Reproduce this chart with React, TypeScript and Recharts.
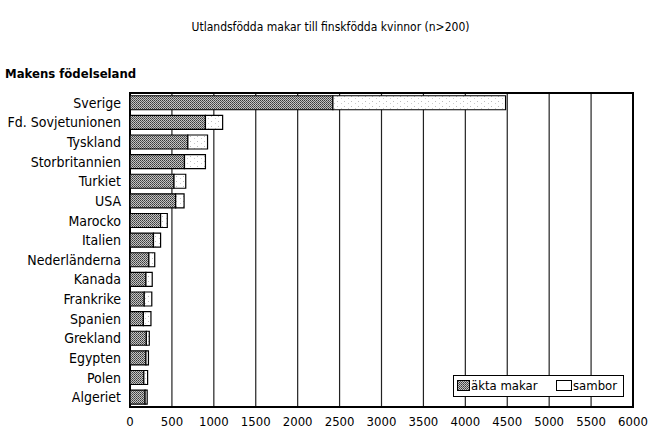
import React from 'react';
import { BarChart, Bar, XAxis, YAxis, CartesianGrid, ReferenceArea } from 'recharts';

const categories = ['Sverige', 'Fd. Sovjetunionen', 'Tyskland', 'Storbritannien', 'Turkiet', 'USA', 'Marocko', 'Italien', 'Nederländerna', 'Kanada', 'Frankrike', 'Spanien', 'Grekland', 'Egypten', 'Polen', 'Algeriet'];
const aktaMakar = [2420, 900, 690, 650, 525, 545, 365, 280, 225, 190, 170, 160, 195, 190, 165, 180];
const sambor = [2060, 205, 235, 250, 140, 100, 80, 85, 70, 75, 90, 90, 35, 30, 45, 25];
const xTicks = [0, 500, 1000, 1500, 2000, 2500, 3000, 3500, 4000, 4500, 5000, 5500, 6000];
const seriesNames = ['äkta makar', 'sambor'];

const data = categories.map((c, i) => ({ land: c, akta: aktaMakar[i], sambor: sambor[i] }));

const FONT = '"DejaVu Sans Condensed", "DejaVu Sans", sans-serif';

export default function App() {
  return (
    <div style={{ position: 'fixed', left: 0, top: 0, width: 661, height: 429, background: '#fff', fontStretch: 'condensed' }}>
      <div style={{ position: 'absolute', left: 0, width: 661, top: 20, textAlign: 'center', fontFamily: FONT, fontSize: 12, color: '#000' }}>
        Utlandsfödda makar till finskfödda kvinnor (n&gt;200)
      </div>
      <div style={{ position: 'absolute', left: 5, top: 66, fontFamily: FONT, fontSize: 13, fontWeight: 'bold', color: '#000' }}>
        Makens födelseland
      </div>
      <BarChart
        width={661}
        height={429}
        data={data}
        layout="vertical"
        margin={{ top: 93, right: 28, bottom: 0, left: 0 }}
        barCategoryGap="14%"
      >
        <defs>
          <pattern id="patDark" width="2" height="2" patternUnits="userSpaceOnUse">
            <rect width="2" height="2" fill="#c4c4c4" />
            <rect x="0" y="0" width="1" height="1" fill="#3a3a3a" />
            <rect x="1" y="1" width="1" height="1" fill="#5a5a5a" />
          </pattern>
          <pattern id="patLight" width="7" height="5" patternUnits="userSpaceOnUse">
            <rect width="7" height="5" fill="#fff" />
            <rect x="1" y="1" width="1" height="1" fill="#bbb" />
            <rect x="5" y="3" width="1" height="1" fill="#ccc" />
          </pattern>
        </defs>
        <CartesianGrid horizontal={false} stroke="#222" strokeWidth={1.2} />
        <XAxis
          type="number"
          domain={[0, 6000]}
          ticks={xTicks}
          interval={0}
          height={22}
          axisLine={false}
          tickLine={false}
          tickSize={0}
          tickMargin={10}
          tick={{ fill: '#000', fontSize: 13, fontFamily: FONT }}
        />
        <YAxis
          type="category"
          dataKey="land"
          width={130}
          axisLine={false}
          tickLine={false}
          tickSize={0}
          tickMargin={9}
          interval={0}
          tick={{ fill: '#000', fontSize: 14, fontFamily: FONT }}
        />
        <ReferenceArea x1={0} x2={6000} fill="none" stroke="#000" strokeWidth={2} ifOverflow="visible" />
        <Bar dataKey="akta" name={seriesNames[0]} stackId="a" fill="url(#patDark)" stroke="#000" strokeWidth={1.2} isAnimationActive={false} />
        <Bar dataKey="sambor" name={seriesNames[1]} stackId="a" fill="url(#patLight)" stroke="#000" strokeWidth={1.2} isAnimationActive={false} />
      </BarChart>
      <div style={{
        position: 'absolute', left: 453, top: 375, width: 171, height: 22,
        border: '1.5px solid #000', background: '#fff', boxSizing: 'border-box',
        fontFamily: FONT, fontSize: 13, color: '#000',
      }}>
        <svg width={13} height={11} style={{ position: 'absolute', left: 3, top: 4 }}>
          <rect x={0.5} y={0.5} width={12} height={10} fill="url(#patDark)" stroke="#000" />
        </svg>
        <span style={{ position: 'absolute', left: 17, top: 2, whiteSpace: 'nowrap' }}>{seriesNames[0]}</span>
        <svg width={16} height={11} style={{ position: 'absolute', left: 102, top: 4 }}>
          <rect x={0.5} y={0.5} width={15} height={10} fill="#fff" stroke="#000" />
        </svg>
        <span style={{ position: 'absolute', left: 119, top: 2, whiteSpace: 'nowrap' }}>{seriesNames[1]}</span>
      </div>
    </div>
  );
}
